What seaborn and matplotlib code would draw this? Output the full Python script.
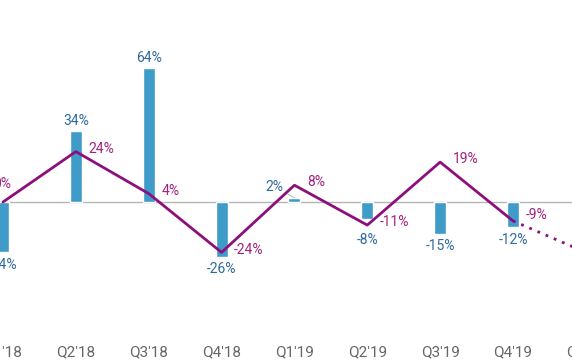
import numpy as np
import pandas as pd
import matplotlib
matplotlib.use("Agg")
import matplotlib.pyplot as plt
import matplotlib.transforms as mtransforms
import seaborn as sns

categories = ["Q1'18", "Q2'18", "Q3'18", "Q4'18", "Q1'19", "Q2'19", "Q3'19", "Q4'19", "Q1'20"]
bar_values = [-24, 34, 64, -26, 2, -8, -15, -12]
line_values = [0, 24, 4, -24, 8, -11, 19, -9]
forecast_values = [-9, -24]

BAR_COLOR = "#3f9bc8"
BAR_TEXT = "#2f6a9c"
LINE_COLOR = "#8c0f7c"
LINE_TEXT = "#a1237f"

sns.set_theme(style="white")
plt.rcParams['font.family'] = ['Roboto', 'DejaVu Sans']

fig = plt.figure(figsize=(5.72, 3.64), dpi=100)
ax = fig.add_axes([0, 44 / 364, 1, 320 / 364])

df = pd.DataFrame({"q": categories[:len(bar_values)], "v": bar_values})
sns.barplot(data=df, x="q", y="v", order=categories, color=BAR_COLOR,
            width=0.165, saturation=1, ax=ax, zorder=2)

xs = np.arange(len(line_values))
sns.lineplot(x=xs, y=line_values, color=LINE_COLOR, linewidth=2.0, ax=ax, zorder=3)
fx = np.arange(len(line_values) - 1, len(line_values) - 1 + len(forecast_values))
sns.lineplot(x=fx, y=forecast_values, color=LINE_COLOR, linewidth=2.0,
             linestyle=(0, (1, 2.2)), ax=ax, zorder=3)

ax.axhline(0, color="#b5b5b5", linewidth=1.0, zorder=1)

# bar labels
for i, v in enumerate(bar_values):
    txt = f"{v}%"
    if i == 4:
        ax.annotate(txt, xy=(i, v), xytext=(-8, 8), textcoords="offset points",
                    ha="right", va="center", color=BAR_TEXT, fontsize=10,
                    arrowprops=dict(arrowstyle="-", color="#aaaaaa", lw=0.6,
                                    shrinkA=1, shrinkB=0))
    elif v >= 0:
        ax.annotate(txt, xy=(i, v), xytext=(0, 2), textcoords="offset points",
                    ha="center", va="bottom", color=BAR_TEXT, fontsize=10)
    else:
        pad = -10 if i == 5 else -4
        ax.annotate(txt, xy=(i, v), xytext=(0, pad), textcoords="offset points",
                    ha="center", va="top", color=BAR_TEXT, fontsize=10)

# line labels
for i, v in enumerate(line_values):
    txt = f"{v}%"
    if i == 0:
        ax.annotate(txt, xy=(i, v), xytext=(6, 13), textcoords="offset points",
                    ha="right", va="center", color=LINE_TEXT, fontsize=10)
    else:
        dy = 4 if i == 7 else 2
        ax.annotate(txt, xy=(i, v), xytext=(9, dy), textcoords="offset points",
                    ha="left", va="center", color=LINE_TEXT, fontsize=10)

ax.set_xlim(-3 / 72.86, 7 + 59 / 72.86)
ax.set_ylim(-118 / 2.1, 202 / 2.1)
ax.set_xlabel("")
ax.set_ylabel("")
ax.set_yticks([])
ax.tick_params(axis="x", length=0, pad=18, labelsize=11, labelcolor="#666666")
for s in ax.spines.values():
    s.set_visible(False)

# last category label sits beyond the visible range (cut by the figure edge)
trans = mtransforms.blended_transform_factory(ax.transData, ax.transAxes)
ax.annotate(categories[-1], xy=(len(categories) - 1, 0), xycoords=trans,
            xytext=(0, -18), textcoords="offset points", ha="center", va="top",
            fontsize=11, color="#666666", annotation_clip=False)

fig.savefig("out.png", dpi=100)
